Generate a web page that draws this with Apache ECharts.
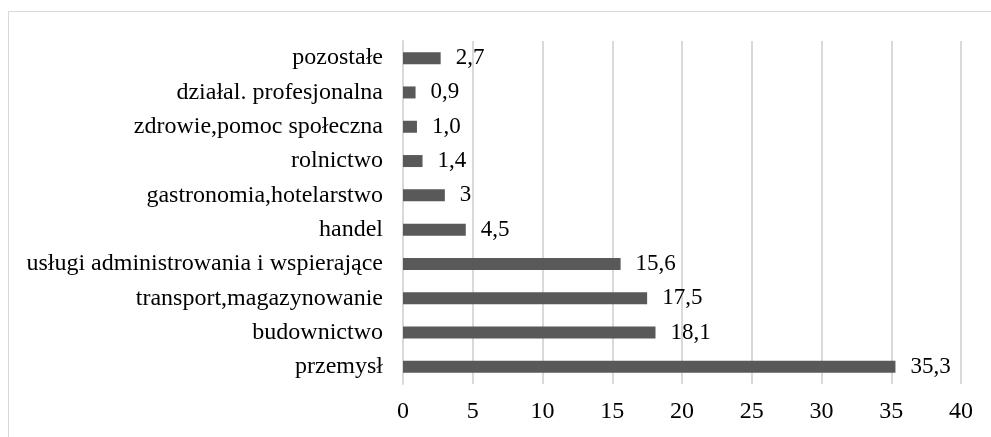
<!DOCTYPE html>
<html>
<head>
<meta charset="utf-8">
<script src="https://cdn.jsdelivr.net/npm/echarts@6/dist/echarts.min.js"></script>
<style>
  html, body { margin: 0; padding: 0; background: #fff; overflow: hidden; }
  #frame { position: absolute; left: 8px; top: 11px; width: 1000px; height: 460px; border: 1px solid #d9d9d9; box-sizing: border-box; }
  #chart { position: absolute; left: 0; top: 0; width: 991px; height: 437px; }
</style>
</head>
<body>
<div id="frame"></div>
<div id="chart"></div>
<script>
  // top to bottom as in the picture
  const categories = [
    "pozostałe",
    "działal. profesjonalna",
    "zdrowie,pomoc społeczna",
    "rolnictwo",
    "gastronomia,hotelarstwo",
    "handel",
    "usługi administrowania i wspierające",
    "transport,magazynowanie",
    "budownictwo",
    "przemysł"
  ];
  const values = [2.7, 0.9, 1.0, 1.4, 3, 4.5, 15.6, 17.5, 18.1, 35.3];
  const valueLabels = ["2,7", "0,9", "1,0", "1,4", "3", "4,5", "15,6", "17,5", "18,1", "35,3"];

  const font = "'Liberation Serif', 'Times New Roman', serif";

  const chart = echarts.init(document.getElementById("chart"));
  chart.setOption({
    animation: false,
    grid: { left: 403, right: 30, top: 41, bottom: 53 },
    xAxis: {
      type: "value",
      min: 0,
      max: 40,
      interval: 5,
      axisLine: { show: false },
      axisTick: { show: false },
      axisLabel: { color: "#000", fontFamily: font, fontSize: 24, margin: 16 },
      splitLine: { lineStyle: { color: "#d9d9d9", width: 2 } }
    },
    yAxis: {
      type: "category",
      inverse: true,
      data: categories,
      axisLine: { show: true, lineStyle: { color: "#d9d9d9", width: 2 } },
      axisTick: { show: false },
      axisLabel: { color: "#000", fontFamily: font, fontSize: 24, margin: 20 }
    },
    series: [
      {
        type: "bar",
        data: values,
        barWidth: 12,
        itemStyle: { color: "#595959" },
        label: {
          show: true,
          position: "right",
          distance: 15,
          color: "#000",
          fontFamily: font,
          fontSize: 23,
          formatter: (p) => valueLabels[p.dataIndex]
        }
      }
    ]
  });
</script>
</body>
</html>
